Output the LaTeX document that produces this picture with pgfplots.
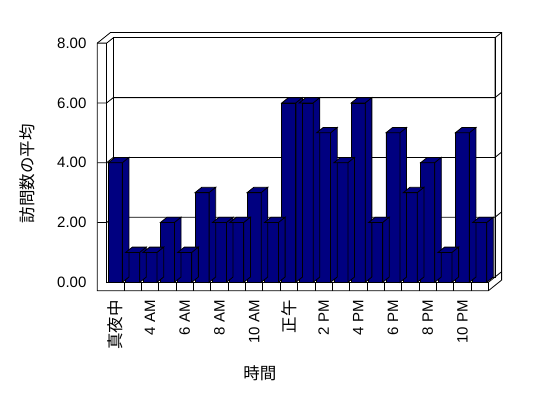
\documentclass[border=0pt]{standalone}
\usepackage{fontspec}
\setmainfont{Liberation Sans}
\newfontfamily\cjk{Noto Sans CJK JP}
\usepackage{pgfplots}
\pgfplotsset{compat=1.18}
\usepackage{pgfplotstable}
\definecolor{navy}{RGB}{0,0,128}
\pgfplotstableread{
i v
0 4
1 1
2 1
3 2
4 1
5 3
6 2
7 2
8 3
9 2
10 6
11 6
12 5
13 4
14 6
15 2
16 5
17 3
18 4
19 1
20 5
21 2
}\data
\pgfdeclareplotmark{barside}{%
  \pgfmathsetlengthmacro\h{\val*29.9bp}%
  \pgfpathmoveto{\pgfpoint{7bp}{0bp}}%
  \pgfpathlineto{\pgfpoint{13.6bp}{5.3bp}}%
  \pgfpathlineto{\pgfpoint{13.6bp}{5.3bp-\h}}%
  \pgfpathlineto{\pgfpoint{7bp}{-\h}}%
  \pgfpathclose
  \pgfpathmoveto{\pgfpoint{-7bp}{0bp}}%
  \pgfpathlineto{\pgfpoint{7bp}{0bp}}%
  \pgfpathlineto{\pgfpoint{13.6bp}{5.3bp}}%
  \pgfpathlineto{\pgfpoint{-0.4bp}{5.3bp}}%
  \pgfpathclose
  \pgfusepath{fill,stroke}%
}
\begin{document}
\begin{tikzpicture}
\path[use as bounding box] (0,0) rectangle (548bp,398bp);
\begin{axis}[
  at={(106.7bp,115.7bp)}, anchor=south west,
  scale only axis, width=381.7bp, height=239.2bp,
  xmin=-0.5, xmax=21.5, ymin=0, ymax=8,
  clip=false,
  axis line style={draw=none}, tick style={draw=none}, major tick length=0pt,
  ytick={0,2,4,6,8},
  yticklabel={\pgfmathprintnumber[fixed,fixed zerofill,precision=2]{\tick}},
  /pgf/number format/assume math mode=true,
  ticklabel style={font=\fontsize{15bp}{17bp}\selectfont},
  yticklabel style={anchor=east, xshift=-16.8bp},
  xtick={0,2,...,20},
  xticklabels={{\fontsize{16.5bp}{18bp}\selectfont\cjk 真夜中},4 AM,6 AM,8 AM,10 AM,{\fontsize{16.5bp}{18bp}\selectfont\cjk 正午},2 PM,4 PM,6 PM,8 PM,10 PM},
  xticklabel style={yshift=-14.4bp, rotate=90, anchor=east},
  xlabel={\cjk 時間},
  xlabel style={at={(axis description cs:0.4016,-0.379)}, anchor=center, font=\fontsize{16.5bp}{18bp}\selectfont},
  ylabel={\cjk 訪問数の平均},
  ylabel style={at={(axis description cs:-0.2075,0.4528)}, anchor=center, rotate=0, font=\fontsize{16.5bp}{18bp}\selectfont},
]
\begin{scope}[line width=0.8bp, draw=black]
\draw[fill=white] ([xshift=-9.4bp]axis cs:-0.5,8) -- ([shift={(-9.4bp,-8.4bp)}]axis cs:-0.5,0) -- ([yshift=-8.4bp]axis cs:21.5,0) -- ([shift={(13.2bp,2.2bp)}]axis cs:21.5,0) -- ([shift={(13.2bp,10.6bp)}]axis cs:21.5,8) -- ([shift={(3.8bp,10.6bp)}]axis cs:-0.5,8) -- cycle;
\draw ([xshift=-9.4bp]axis cs:-0.5,8) -- (axis cs:-0.5,8) -- ([shift={(6.6bp,5.3bp)}]axis cs:-0.5,8);
\draw (axis cs:-0.5,8) -- (axis cs:-0.5,0) -- (axis cs:21.5,0) -- ([yshift=-8.4bp]axis cs:21.5,0);
\draw (axis cs:21.5,0) -- ([shift={(6.6bp,5.3bp)}]axis cs:21.5,0) -- ([shift={(6.6bp,5.3bp)}]axis cs:21.5,8) -- ([shift={(13.2bp,10.6bp)}]axis cs:21.5,8);
\draw ([shift={(6.6bp,5.3bp)}]axis cs:21.5,0) -- ([shift={(13.2bp,10.6bp)}]axis cs:21.5,0);
\draw ([shift={(6.6bp,5.3bp)}]axis cs:-0.5,0) rectangle ([shift={(6.6bp,5.3bp)}]axis cs:21.5,8);
\draw ([xshift=-9.4bp]axis cs:-0.5,2) -- (axis cs:-0.5,2) -- ([shift={(6.6bp,5.3bp)}]axis cs:-0.5,2) -- ([shift={(6.6bp,5.3bp)}]axis cs:21.5,2) -- ([shift={(13.2bp,10.6bp)}]axis cs:21.5,2);
\draw ([xshift=-9.4bp]axis cs:-0.5,4) -- (axis cs:-0.5,4) -- ([shift={(6.6bp,5.3bp)}]axis cs:-0.5,4) -- ([shift={(6.6bp,5.3bp)}]axis cs:21.5,4) -- ([shift={(13.2bp,10.6bp)}]axis cs:21.5,4);
\draw ([xshift=-9.4bp]axis cs:-0.5,6) -- (axis cs:-0.5,6) -- ([shift={(6.6bp,5.3bp)}]axis cs:-0.5,6) -- ([shift={(6.6bp,5.3bp)}]axis cs:21.5,6) -- ([shift={(13.2bp,10.6bp)}]axis cs:21.5,6);
\draw (axis cs:0.5,0) -- ([yshift=-8.4bp]axis cs:0.5,0);
\draw (axis cs:1.5,0) -- ([yshift=-8.4bp]axis cs:1.5,0);
\draw (axis cs:2.5,0) -- ([yshift=-8.4bp]axis cs:2.5,0);
\draw (axis cs:3.5,0) -- ([yshift=-8.4bp]axis cs:3.5,0);
\draw (axis cs:4.5,0) -- ([yshift=-8.4bp]axis cs:4.5,0);
\draw (axis cs:5.5,0) -- ([yshift=-8.4bp]axis cs:5.5,0);
\draw (axis cs:6.5,0) -- ([yshift=-8.4bp]axis cs:6.5,0);
\draw (axis cs:7.5,0) -- ([yshift=-8.4bp]axis cs:7.5,0);
\draw (axis cs:8.5,0) -- ([yshift=-8.4bp]axis cs:8.5,0);
\draw (axis cs:9.5,0) -- ([yshift=-8.4bp]axis cs:9.5,0);
\draw (axis cs:10.5,0) -- ([yshift=-8.4bp]axis cs:10.5,0);
\draw (axis cs:11.5,0) -- ([yshift=-8.4bp]axis cs:11.5,0);
\draw (axis cs:12.5,0) -- ([yshift=-8.4bp]axis cs:12.5,0);
\draw (axis cs:13.5,0) -- ([yshift=-8.4bp]axis cs:13.5,0);
\draw (axis cs:14.5,0) -- ([yshift=-8.4bp]axis cs:14.5,0);
\draw (axis cs:15.5,0) -- ([yshift=-8.4bp]axis cs:15.5,0);
\draw (axis cs:16.5,0) -- ([yshift=-8.4bp]axis cs:16.5,0);
\draw (axis cs:17.5,0) -- ([yshift=-8.4bp]axis cs:17.5,0);
\draw (axis cs:18.5,0) -- ([yshift=-8.4bp]axis cs:18.5,0);
\draw (axis cs:19.5,0) -- ([yshift=-8.4bp]axis cs:19.5,0);
\draw (axis cs:20.5,0) -- ([yshift=-8.4bp]axis cs:20.5,0);
\end{scope}
\addplot[only marks, mark=barside, mark options={fill=navy, draw=black, line width=0.8bp},
  visualization depends on={\thisrow{v}\as\val}] table[x=i, y=v] {\data};
\addplot[ybar, bar width=14bp, fill=navy, draw=black, line width=0.8bp] table[x=i, y=v] {\data};
\end{axis}
\end{tikzpicture}
\end{document}
